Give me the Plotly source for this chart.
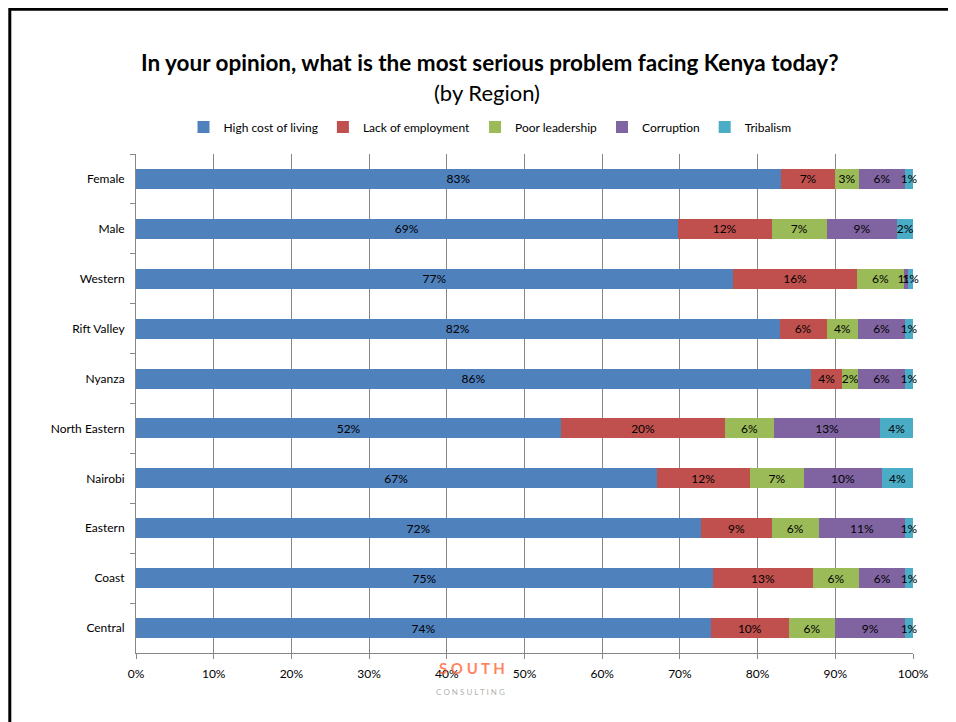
import plotly.graph_objects as go

categories = ["Female", "Male", "Western", "Rift Valley", "Nyanza", "North Eastern",
              "Nairobi", "Eastern", "Coast", "Central"]
series_names = ["High cost of living", "Lack of employment", "Poor leadership",
                "Corruption", "Tribalism"]
high_cost = [83, 69, 77, 82, 86, 52, 67, 72, 75, 74]
lack_employment = [7, 12, 16, 6, 4, 20, 12, 9, 13, 10]
poor_leadership = [3, 7, 6, 4, 2, 6, 7, 6, 6, 6]
corruption = [6, 9, 0.6, 6, 6, 13, 10, 11, 6, 9]
tribalism = [1, 2, 0.6, 1, 1, 4, 4, 1, 1, 1]
x_ticks = [0, 10, 20, 30, 40, 50, 60, 70, 80, 90, 100]

series_values = [high_cost, lack_employment, poor_leadership, corruption, tribalism]
colors = ["#4F81BD", "#C0504D", "#9BBB59", "#8064A2", "#4BACC6"]

FONT = "Lato"

# the page body adds an 8px offset; work in screenshot pixels and convert
OFF = 8
W, H = 956 - OFF, 722 - OFF
L, R, T, B = 136, 913, 154, 653          # plot area in screenshot pixels
def px(x):
    return (x - L) / (R - L)
def py(y):
    return (B - y) / (B - T)

fig = go.Figure()
for name, vals, col in zip(series_names, series_values, colors):
    fig.add_trace(go.Bar(
        y=categories, x=vals, name=name, orientation="h",
        marker=dict(color=col, line=dict(width=0)),
        text=[f"{v:.0f}%" for v in vals],
        textposition="inside", insidetextanchor="middle", textangle=0,
        constraintext="none", cliponaxis=False,
        textfont=dict(family=FONT, size=12, color="#000000"),
        hoverinfo="name+x",
    ))

fig.update_layout(
    width=W, height=H,
    barmode="stack", barnorm="percent", bargap=0.6,
    paper_bgcolor="white", plot_bgcolor="white",
    margin=dict(l=L - OFF, r=956 - R, t=T - OFF, b=722 - B),
    font=dict(family=FONT, size=12, color="#000000"),
    legend=dict(orientation="h", x=px(490), y=py(127), xanchor="center", yanchor="middle",
                font=dict(family=FONT, size=12), itemwidth=30, tracegroupgap=0,
                bgcolor="rgba(0,0,0,0)", traceorder="normal"),
    xaxis=dict(range=[0, 100], tickvals=x_ticks, ticktext=[f"{t}%" for t in x_ticks],
               showgrid=True, gridcolor="#878787", gridwidth=1,
               showline=True, linecolor="#878787", linewidth=1,
               ticks="outside", ticklen=5, tickcolor="#878787", ticklabelstandoff=5,
               tickfont=dict(family=FONT, size=12), zeroline=False, fixedrange=True),
    yaxis=dict(categoryorder="array", categoryarray=categories, autorange="reversed",
               showgrid=False, showline=True, linecolor="#878787", linewidth=1,
               ticks="outside", ticklen=5, tickcolor="#878787", tickson="boundaries",
               ticklabelstandoff=8,
               tickfont=dict(family=FONT, size=12), fixedrange=True),
    annotations=[
        dict(text="<b>In your opinion, what is the most serious problem facing Kenya today?</b>",
             x=px(490), y=py(62), xref="paper", yref="paper", showarrow=False,
             xanchor="center", yanchor="middle", font=dict(family=FONT, size=22.5)),
        dict(text="(by Region)", x=px(487), y=py(92), xref="paper", yref="paper",
             showarrow=False, xanchor="center", yanchor="middle",
             font=dict(family=FONT, size=22)),
        dict(text="<b>S O U T H</b>", x=px(472), y=py(668), xref="paper", yref="paper",
             showarrow=False, xanchor="center", yanchor="middle",
             font=dict(family=FONT, size=15, color="rgba(255,90,40,0.75)")),
        dict(text="C O N S U L T I N G", x=px(470), y=py(692), xref="paper", yref="paper",
             showarrow=False, xanchor="center", yanchor="middle",
             font=dict(family=FONT, size=8, color="rgba(120,120,120,0.6)")),
    ],
    shapes=[
        dict(type="rect", xref="paper", yref="paper",
             x0=px(9.8), x1=px(1100), y0=py(9.3), y1=py(900),
             line=dict(color="#000000", width=3), fillcolor="rgba(0,0,0,0)", layer="above"),
    ],
)

fig.write_html("out.html")
